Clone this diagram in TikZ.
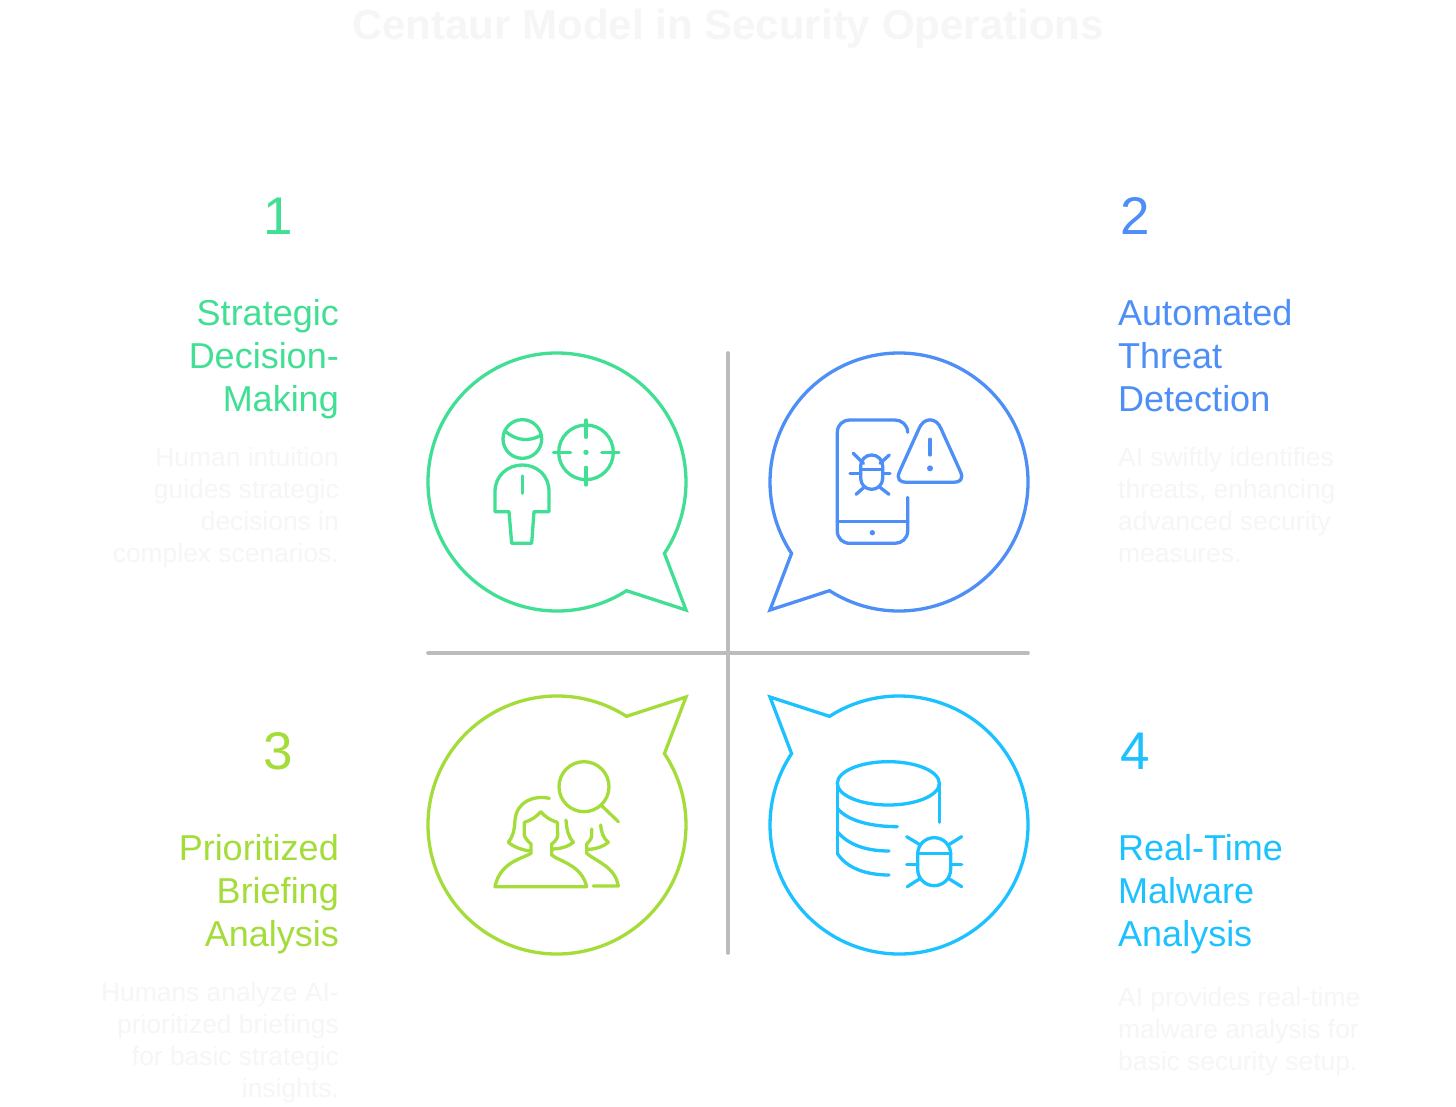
\documentclass[tikz,border=0pt]{standalone}
\usepackage{fontspec}
\setmainfont{Liberation Sans}
\usepackage{xcolor}
\usetikzlibrary{positioning,calc}
\definecolor{paleink}{RGB}{246,246,246}

\begin{document}
\begin{tikzpicture}[x=1pt,y=-1pt]
	\definecolor{cgreen}{RGB}{64,223,148}
	\definecolor{cblue}{RGB}{77,143,247}
	\definecolor{clime}{RGB}{164,220,58}
	\definecolor{ccyan}{RGB}{27,194,255}
	\definecolor{cgray}{RGB}{188,188,188}
	\tikzset{
		bubble/.pic={
			\draw[pic actions, line width=3.3pt, miter limit=10] (57.4:129) arc (57.4:393.6:129) -- (129,128) -- cycle;
		},
		divider/.style={draw=cgray, line width=3.6pt, line cap=round},
		iconbox/.style={x=0.33333pt, y=-0.33333pt, line width=3.3pt, line cap=round, line join=round},
		numtext/.style={inner sep=0pt, font=\fontsize{53}{53}\selectfont},
		headleft/.style={inner sep=0pt, anchor=north east, align=right, font=\fontsize{36}{43}\selectfont},
		headright/.style={inner sep=0pt, anchor=north west, align=left, font=\fontsize{36}{43}\selectfont},
		bodyleft/.style={inner sep=0pt, anchor=north east, align=right, text=paleink, font=\fontsize{26.4}{32}\selectfont},
		bodyright/.style={inner sep=0pt, anchor=north west, align=left, text=paleink, font=\fontsize{26.4}{32}\selectfont}
	}

	\useasboundingbox (0,0) rectangle (1456,1106);
	\fill[white] (0,0) rectangle (1456,1106);

	\node[inner sep=0pt, text=paleink, font=\fontsize{42}{42}\bfseries\selectfont] (title) at (728,29) {Centaur Model in Security Operations};

	\draw[divider] (728,353) -- (728,953);
	\draw[divider] (428,653) -- (1028,653);

	\pic (bubblea) [draw=cgreen] at (557,482) {bubble};
	\pic (bubbleb) [draw=cblue, xscale=-1] at (899,482) {bubble};
	\pic (bubblec) [draw=clime, yscale=-1] at (557,825) {bubble};
	\pic (bubbled) [draw=ccyan, xscale=-1, yscale=-1] at (899,825) {bubble};

	\node[numtext, text=cgreen] (numa) at (278,216) {1};
	\node[numtext, text=cblue] (numb) at (1135,216) {2};
	\node[numtext, text=clime] (numc) at (278,751) {3};
	\node[numtext, text=ccyan] (numd) at (1135,751) {4};

	\node[headleft, text=cgreen] (heada) at (339,299) {Strategic\\Decision-\\Making};
	\node[headright, text=cblue] (headb) at (1118,299) {Automated\\Threat\\Detection};
	\node[headleft, text=clime] (headc) at (339,834) {Prioritized\\Briefing\\Analysis};
	\node[headright, text=ccyan] (headd) at (1118,834) {Real-Time\\Malware\\Analysis};

	\node[bodyleft] (bodya) at (339,447) {Human intuition\\guides strategic\\decisions in\\complex scenarios.};
	\node[bodyright] (bodyb) at (1118,447) {AI swiftly identifies\\threats, enhancing\\advanced security\\measures.};
	\node[bodyleft] (bodyc) at (339,982) {Humans analyze AI-\\prioritized briefings\\for basic strategic\\insights.};
	\node[bodyright] (bodyd) at (1118,987) {AI provides real-time\\malware analysis for\\basic security setup.};

	\begin{scope}[shift={(480,400)}, iconbox, draw=cgreen]
		\draw (127,117) circle (58);
		\draw (74,92) .. controls (110,125) and (150,125) .. (184,105);
		\draw (45,335) -- (45,275) .. controls (45,225) and (85,195) .. (127,195) .. controls (170,195) and (207,225) .. (207,275) -- (207,335) -- (162,335) -- (155,430) -- (95,430) -- (87,335) -- cycle;
		\draw (127,228) -- (127,280);
		\draw (318,157) circle (82);
		\draw (318,60) -- (318,112);
		\draw (318,202) -- (318,255);
		\draw (220,157) -- (272,157);
		\draw (365,157) -- (417,157);
		\fill[cgreen] (318,157) circle (8);
	\end{scope}

	\begin{scope}[shift={(820,400)}, iconbox, draw=cblue]
		\draw (263,97) .. controls (263,75) and (245,60) .. (225,60) -- (90,60) .. controls (68,60) and (52,75) .. (52,97) -- (52,393) .. controls (52,415) and (68,430) .. (90,430) -- (225,430) .. controls (245,430) and (263,415) .. (263,393) -- (263,292);
		\draw (52,365) -- (263,365);
		\fill[cblue] (157,398) circle (8);
		\draw[rounded corners=10.9pt] (122,165) rectangle (188,268);
		\draw (125,208) -- (188,208);
		\draw (100,160) -- (130,190);
		\draw (208,165) -- (180,190);
		\draw (90,220) -- (122,220);
		\draw (188,220) -- (210,220);
		\draw (108,283) -- (132,262);
		\draw (207,283) -- (180,262);
		\draw (296,88) .. controls (310,50) and (350,50) .. (364,88) -- (420,212) .. controls (433,238) and (420,247) .. (400,247) -- (260,247) .. controls (240,247) and (227,238) .. (240,212) -- cycle;
		\draw (330,118) -- (330,165);
		\fill[cblue] (330,205) circle (9);
	\end{scope}

	\begin{scope}[shift={(480,745)}, iconbox, draw=clime]
		\draw (312,125) circle (75);
		\draw (365,182) -- (415,230);
		\draw (208,160) .. controls (160,150) and (110,170) .. (105,225) .. controls (103,260) and (98,275) .. (85,292) .. controls (100,305) and (125,315) .. (150,318);
		\draw (182,200) .. controls (170,215) and (155,225) .. (133,232) -- (133,270) .. controls (135,280) and (145,290) .. (153,297) -- (153,325) .. controls (130,340) and (60,350) .. (45,425) -- (320,425) .. controls (305,360) and (240,350) .. (215,330) -- (215,297) .. controls (225,290) and (233,280) .. (233,270) -- (232,232) .. controls (210,225) and (195,215) .. (182,200);
		\draw (258,225) .. controls (260,255) and (265,275) .. (280,292) .. controls (265,305) and (240,312) .. (215,312);
		\draw (340,423) -- (415,423) .. controls (405,365) and (350,350) .. (320,325) -- (320,297) .. controls (325,290) and (335,285) .. (335,270) -- (335,252);
		\draw (362,240) .. controls (363,260) and (370,280) .. (385,292) .. controls (370,305) and (345,313) .. (322,313);
	\end{scope}

	\begin{scope}[shift={(820,745)}, iconbox, draw=ccyan]
		\draw (205,115) ellipse (153 and 65);
		\draw (52,115) -- (52,325);
		\draw (358,115) -- (358,232);
		\draw (52,190) .. controls (85,230) and (160,245) .. (232,245);
		\draw (52,260) .. controls (85,300) and (140,318) .. (207,318);
		\draw (52,325) .. controls (80,370) and (140,390) .. (207,390);
		\draw[rounded corners=16.4pt] (293,278) rectangle (392,422);
		\draw (293,325) -- (392,325);
		\draw (260,275) -- (298,298);
		\draw (425,275) -- (388,298);
		\draw (260,358) -- (293,358);
		\draw (392,358) -- (425,358);
		\draw (262,425) -- (298,402);
		\draw (425,425) -- (388,402);
	\end{scope}
\end{tikzpicture}
\end{document}
